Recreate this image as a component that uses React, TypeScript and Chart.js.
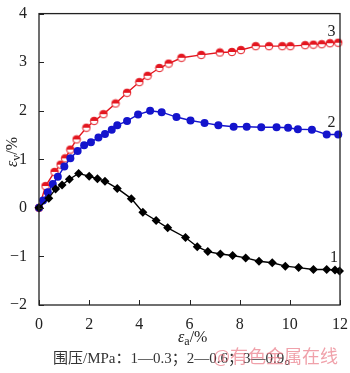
import React, { useEffect, useRef } from "react";
import { Chart, registerables } from "chart.js";
Chart.register(...registerables);

// Curve 1 (0.3 MPa) – black diamonds
const c1X = [0, 0.39, 0.66, 0.92, 1.21, 1.58, 2.0, 2.33, 2.63, 3.12, 3.68, 4.14, 4.67, 5.13, 5.84, 6.31, 6.73, 7.23, 7.72, 8.24, 8.77, 9.3, 9.82, 10.35, 10.94, 11.47, 11.8, 11.98];
const c1Y = [0, 0.2, 0.39, 0.47, 0.59, 0.71, 0.65, 0.6, 0.55, 0.4, 0.19, -0.09, -0.26, -0.41, -0.61, -0.8, -0.9, -0.95, -0.98, -1.03, -1.1, -1.13, -1.2, -1.23, -1.27, -1.27, -1.28, -1.3];
// Curve 2 (0.6 MPa) – blue circles
const c2X = [0, 0.16, 0.35, 0.55, 0.75, 1.01, 1.25, 1.54, 1.8, 2.07, 2.37, 2.63, 2.9, 3.12, 3.51, 3.95, 4.43, 4.89, 5.48, 6.04, 6.6, 7.15, 7.76, 8.28, 8.86, 9.47, 9.93, 10.32, 10.88, 11.47, 11.93];
const c2Y = [0, 0.15, 0.32, 0.49, 0.64, 0.85, 1.02, 1.17, 1.29, 1.35, 1.45, 1.52, 1.61, 1.7, 1.79, 1.92, 2.0, 1.97, 1.87, 1.8, 1.75, 1.7, 1.67, 1.67, 1.66, 1.66, 1.65, 1.62, 1.61, 1.51, 1.51];
// Curve 3 (0.9 MPa) – red half-filled circles
const c3X = [0, 0.26, 0.62, 0.86, 1.04, 1.25, 1.5, 1.89, 2.2, 2.57, 3.05, 3.51, 4.0, 4.33, 4.8, 5.17, 5.68, 6.47, 7.21, 7.69, 8.05, 8.64, 9.17, 9.7, 10.02, 10.61, 10.94, 11.27, 11.6, 11.93];
const c3Y = [0, 0.45, 0.74, 0.89, 1.02, 1.2, 1.41, 1.65, 1.79, 1.93, 2.15, 2.37, 2.59, 2.72, 2.88, 2.97, 3.09, 3.15, 3.2, 3.21, 3.25, 3.33, 3.33, 3.33, 3.33, 3.35, 3.36, 3.37, 3.39, 3.4];

const xTicks = [0, 2, 4, 6, 8, 10, 12];
const yTicks = [-2, -1, 0, 1, 2, 3, 4];
const curveLabels = [
  { text: "3", x: 11.66, y: 3.62 },
  { text: "2", x: 11.66, y: 1.76 },
  { text: "1", x: 11.76, y: -1.02 },
];
const caption = "围压/MPa：1—0.3；2—0.6；3—0.9。";
const watermark = "@有色金属在线";

const RED = "#e3161f";
const BLUE = "#1414cc";
const BLACK = "#000000";
const SERIF = "'Liberation Serif', 'DejaVu Serif', serif";

function halfCircle(): HTMLCanvasElement {
  const c = document.createElement("canvas");
  c.width = 10;
  c.height = 10;
  const g = c.getContext("2d")!;
  g.beginPath();
  g.arc(5, 5, 3.8, 0, Math.PI * 2);
  g.fillStyle = "#fff";
  g.fill();
  g.beginPath();
  g.arc(5, 5, 3.8, Math.PI, Math.PI * 2);
  g.closePath();
  g.fillStyle = RED;
  g.fill();
  g.beginPath();
  g.arc(5, 5, 3.8, 0, Math.PI * 2);
  g.strokeStyle = RED;
  g.lineWidth = 1;
  g.stroke();
  return c;
}

const pts = (xs: number[], ys: number[]) => xs.map((x, i) => ({ x, y: ys[i] }));

export default function App() {
  const ref = useRef<HTMLCanvasElement>(null);
  useEffect(() => {
    const red = halfCircle();
    const deco = {
      id: "deco",
      afterDraw(chart: any) {
        const { ctx, chartArea: a, scales } = chart;
        const xs = scales.x, ys = scales.y;
        ctx.save();
        ctx.strokeStyle = "#222";
        ctx.lineWidth = 1.3;
        ctx.strokeRect(a.left, a.top, a.right - a.left, a.bottom - a.top);
        ctx.lineWidth = 1;
        xTicks.forEach((v) => {
          const px = Math.round(xs.getPixelForValue(v)) + 0.5;
          ctx.beginPath();
          ctx.moveTo(px, a.bottom);
          ctx.lineTo(px, a.bottom - 5);
          ctx.stroke();
        });
        yTicks.forEach((v) => {
          const py = Math.round(ys.getPixelForValue(v)) + 0.5;
          ctx.beginPath();
          ctx.moveTo(a.left, py);
          ctx.lineTo(a.left + 5, py);
          ctx.stroke();
        });
        ctx.fillStyle = "#222";
        ctx.font = `16px ${SERIF}`;
        ctx.textAlign = "center";
        ctx.textBaseline = "middle";
        curveLabels.forEach((l) => {
          ctx.fillText(l.text, xs.getPixelForValue(l.x), ys.getPixelForValue(l.y));
        });
        // x title
        ctx.textAlign = "left";
        ctx.textBaseline = "alphabetic";
        let x0 = 178;
        ctx.font = `italic 16px ${SERIF}`;
        ctx.fillText("ε", x0, 342);
        x0 += ctx.measureText("ε").width;
        ctx.font = `12px ${SERIF}`;
        ctx.fillText("a", x0, 345);
        x0 += ctx.measureText("a").width;
        ctx.font = `16px ${SERIF}`;
        ctx.fillText("/%", x0, 342);
        // y title
        ctx.save();
        ctx.translate(17, 167);
        ctx.rotate(-Math.PI / 2);
        let y0 = 0;
        ctx.font = `italic 16px ${SERIF}`;
        ctx.fillText("ε", y0, 0);
        y0 += ctx.measureText("ε").width;
        ctx.font = `12px ${SERIF}`;
        ctx.fillText("v", y0, 3);
        y0 += ctx.measureText("v").width;
        ctx.font = `16px ${SERIF}`;
        ctx.fillText("/%", y0, 0);
        ctx.restore();
        // caption
        ctx.font = `15px 'Liberation Serif', 'Noto Sans CJK SC', serif`;
        ctx.fillStyle = "#333";
        ctx.fillText(caption, 53, 363);
        ctx.font = `18px 'Noto Sans CJK SC', sans-serif`;
        ctx.fillStyle = "rgba(232,110,125,0.65)";
        ctx.fillText(watermark, 213, 363);
        ctx.restore();
      },
    };
    const chart = new Chart(ref.current!, {
      type: "line",
      data: {
        datasets: [
          {
            data: pts(c1X, c1Y),
            borderColor: BLACK,
            backgroundColor: BLACK,
            borderWidth: 1.4,
            pointStyle: "rectRot",
            pointRadius: 4.5,
            pointBorderWidth: 0,
            clip: 6,
          },
          {
            data: pts(c2X, c2Y),
            borderColor: BLUE,
            backgroundColor: BLUE,
            borderWidth: 1.4,
            pointStyle: "circle",
            pointRadius: 4,
            pointBorderWidth: 0,
            clip: 6,
          },
          {
            data: pts(c3X, c3Y),
            borderColor: RED,
            backgroundColor: RED,
            borderWidth: 1.4,
            pointStyle: red as any,
            pointRadius: 4,
            clip: 6,
          },
        ],
      },
      options: {
        animation: false,
        responsive: false,
        layout: { padding: { top: 6, right: 7, left: 0, bottom: 0 } },
        plugins: { legend: { display: false }, tooltip: { enabled: false } },
        scales: {
          x: {
            type: "linear",
            min: 0,
            max: 12,
            afterFit: (s: any) => { s.height = 68; },
            afterBuildTicks: (s: any) => { s.ticks = xTicks.map((v) => ({ value: v })); },
            grid: { display: false },
            border: { display: false },
            ticks: { font: { family: SERIF, size: 16 }, color: "#222", padding: 2, maxRotation: 0 },
          },
          y: {
            type: "linear",
            min: -2,
            max: 4,
            afterFit: (s: any) => { s.width = 39; },
            afterBuildTicks: (s: any) => { s.ticks = yTicks.map((v) => ({ value: v })); },
            grid: { display: false },
            border: { display: false },
            ticks: {
              font: { family: SERIF, size: 16 },
              color: "#222",
              padding: 4,
              callback: (v: any) => (Number(v) < 0 ? "−" + Math.abs(Number(v)) : String(v)),
            },
          },
        },
      },
      plugins: [deco],
    });
    return () => chart.destroy();
  }, []);
  return (
    <div style={{ position: "fixed", left: 0, top: 0, width: 350, height: 373, background: "#fff" }}>
      <canvas ref={ref} width={350} height={373} style={{ width: 350, height: 373 }} />
    </div>
  );
}
